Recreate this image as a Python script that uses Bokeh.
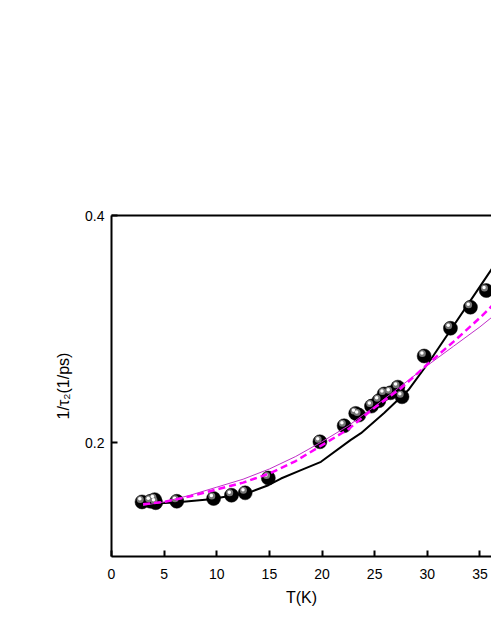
from bokeh.plotting import figure
from bokeh.models import ColumnDataSource, FixedTicker, LinearAxis, Range1d
from bokeh.transform import dodge
from bokeh.embed import file_html
from bokeh.resources import INLINE

# measured points
temp_K = [2.9, 3.7, 4.1, 4.2, 6.2, 9.7, 11.4, 12.7, 14.9, 19.8, 22.1, 23.2, 23.5,
          24.7, 25.4, 25.9, 26.5, 27.2, 27.6, 29.7, 32.2, 34.1, 35.6]
rate = [0.148, 0.1486, 0.150, 0.1473, 0.1486, 0.151, 0.1539, 0.156, 0.169, 0.2009,
        0.215, 0.2259, 0.2244, 0.2323, 0.237, 0.243, 0.244, 0.249, 0.2405, 0.2764,
        0.3008, 0.3193, 0.334]

# black solid model
black_T = [2.9, 6.3, 9.4, 13.0, 14.9, 16.1, 18.0, 19.9, 22.7, 23.7, 25.9, 28.2, 30.3, 36.2]
black_y = [0.146, 0.1478, 0.1504, 0.156, 0.1627, 0.1686, 0.176, 0.1833, 0.2024, 0.2085,
           0.2262, 0.2464, 0.2729, 0.354]

# magenta dashed model
dash_T = [3, 5, 7.5, 10, 12.5, 15, 17.5, 20, 22.5, 25, 27.5, 30, 32.5, 35, 36.2]
dash_y = [0.146, 0.148, 0.153, 0.159, 0.165, 0.173, 0.184, 0.198, 0.212, 0.231, 0.248,
          0.269, 0.289, 0.310, 0.321]

# magenta thin model
thin_T = [3, 5, 7.5, 10, 12.5, 15, 17.5, 20, 22.5, 25, 27.5, 30, 32.5, 35, 36.2]
thin_y = [0.145, 0.148, 0.154, 0.161, 0.168, 0.177, 0.188, 0.201, 0.215, 0.232, 0.250,
          0.268, 0.285, 0.302, 0.311]

x_ticks = [0, 5, 10, 15, 20, 25, 30, 35]
y_ticks = [0.2, 0.4]

FONT = "Liberation Sans"

p = figure(width=491, height=630, output_backend="svg", toolbar_location=None,
           x_range=Range1d(0, 36.1), y_range=Range1d(0.1, 0.4),
           min_border_left=111, min_border_right=0, min_border_top=215,
           min_border_bottom=74)
p.outline_line_color = None
p.grid.visible = False
p.background_fill_color = "white"
p.border_fill_color = "white"

for ax in (p.xaxis[0], p.yaxis[0]):
    ax.axis_line_width = 2
    ax.axis_line_color = "black"
    ax.major_tick_line_width = 2
    ax.major_tick_in = 6
    ax.major_tick_out = 0
    ax.minor_tick_line_color = None
    ax.major_label_text_font = FONT
    ax.major_label_text_font_size = "14px"
    ax.major_label_text_color = "black"
    ax.axis_label_text_font = FONT
    ax.axis_label_text_font_size = "16px"
    ax.axis_label_text_font_style = "normal"
    ax.axis_label_text_color = "black"

p.xaxis[0].ticker = FixedTicker(ticks=x_ticks)
p.yaxis[0].ticker = FixedTicker(ticks=y_ticks)
p.xaxis[0].axis_label = "T(K)"
p.yaxis[0].axis_label = "1/τ₂(1/ps)"
p.xaxis[0].major_label_standoff = 12
p.xaxis[0].axis_label_standoff = 7
p.yaxis[0].major_label_standoff = 7
p.yaxis[0].axis_label_standoff = 10

top = LinearAxis(axis_line_width=2, major_tick_line_color=None,
                 minor_tick_line_color=None, major_label_text_font_size="0px",
                 ticker=FixedTicker(ticks=[]))
p.add_layout(top, "above")

p.line(black_T, black_y, line_color="black", line_width=2)

src = ColumnDataSource(dict(x=temp_K, y=rate))
p.scatter("x", "y", source=src, size=14, fill_color="black", line_color="black",
          line_width=0.5)
p.scatter(dodge("x", -0.17, range=p.x_range), dodge("y", 0.0022, range=p.y_range),
          source=src, size=7, fill_color="#777777", line_color=None)
p.scatter(dodge("x", -0.21, range=p.x_range), dodge("y", 0.0027, range=p.y_range),
          source=src, size=3.5, fill_color="white", line_color=None)

p.line(thin_T, thin_y, line_color="#c030c8", line_width=1)
p.line(dash_T, dash_y, line_color="#ff00ff", line_width=2.5, line_dash="7 4")

open("out.html", "w").write(file_html(p, INLINE))
